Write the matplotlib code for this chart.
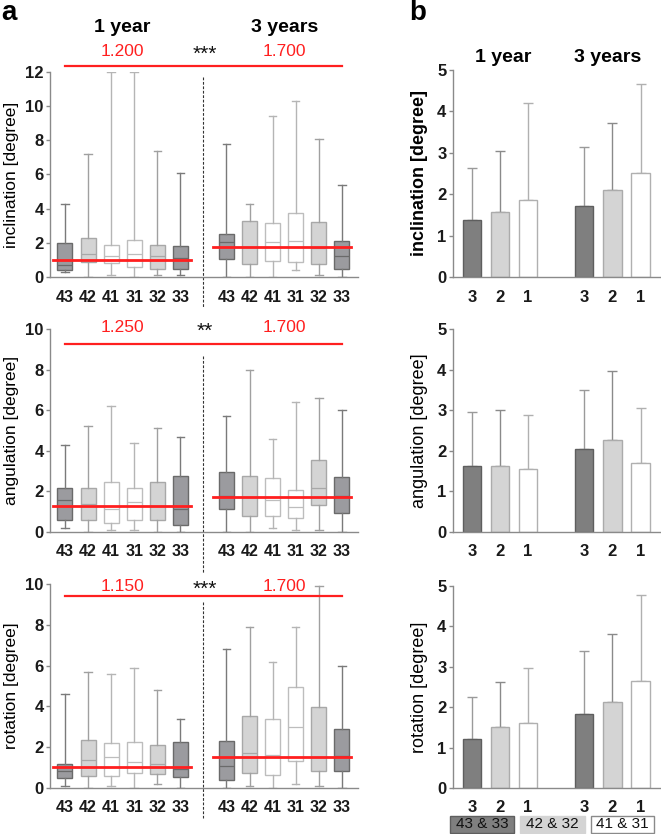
import matplotlib
matplotlib.use('Agg')
import matplotlib.pyplot as plt
from matplotlib.patches import Rectangle

plt.rcParams['font.family'] = ['Liberation Sans', 'DejaVu Sans']

# ---- data: panel a (box plots), order 43 42 41 31 32 33 | 43 42 41 31 32 33
teeth = ['43', '42', '41', '31', '32', '33']
box_pos = [1, 2, 3, 4, 5, 6, 8, 9, 10, 11, 12, 13]

incl_lo = [0.3, 0.0, 0.1, 0.0, 0.1, 0.1, 0.0, 0.0, 0.0, 0.4, 0.1, 0.0]
incl_q1 = [0.43, 0.88, 0.84, 0.58, 0.49, 0.49, 1.07, 0.76, 0.94, 0.88, 0.78, 0.49]
incl_med = [0.70, 1.34, 1.23, 1.34, 1.23, 1.09, 2.03, 1.75, 2.03, 2.10, 1.70, 1.23]
incl_q3 = [1.99, 2.28, 1.87, 2.14, 1.87, 1.83, 2.50, 3.27, 3.14, 3.74, 3.22, 2.09]
incl_hi = [4.3, 7.2, 12.0, 12.0, 7.4, 6.1, 7.8, 4.3, 9.4, 10.3, 8.1, 5.4]

ang_lo = [0.2, 0.0, 0.1, 0.1, 0.0, 0.0, 0.0, 0.0, 0.2, 0.1, 0.1, 0.0]
ang_q1 = [0.58, 0.58, 0.42, 0.61, 0.61, 0.35, 1.15, 0.81, 0.77, 0.71, 1.35, 0.92]
ang_med = [1.58, 1.40, 1.13, 1.50, 1.26, 1.13, 1.75, 1.72, 1.60, 1.21, 2.18, 1.75]
ang_q3 = [2.18, 2.18, 2.48, 2.16, 2.48, 2.74, 2.98, 2.74, 2.65, 2.05, 3.56, 2.69]
ang_hi = [4.3, 5.2, 6.2, 4.4, 5.1, 4.7, 5.7, 8.0, 4.6, 6.4, 6.6, 6.0]

rot_lo = [0.1, 0.0, 0.1, 0.0, 0.2, 0.0, 0.0, 0.1, 0.0, 0.2, 0.1, 0.0]
rot_q1 = [0.51, 0.61, 0.61, 0.72, 0.70, 0.56, 0.41, 0.72, 0.65, 1.31, 0.83, 0.83]
rot_med = [0.82, 1.39, 1.51, 1.29, 1.19, 0.92, 1.10, 1.70, 1.60, 3.00, 1.50, 1.59]
rot_q3 = [1.18, 2.37, 2.23, 2.27, 2.13, 2.27, 2.32, 3.54, 3.40, 4.93, 3.98, 2.91]
rot_hi = [4.6, 5.7, 5.6, 5.9, 4.8, 3.4, 6.8, 7.9, 6.2, 7.9, 9.9, 6.0]

# group medians (red lines) and their labels
incl_grp = [0.97, 1.73]
ang_grp = [1.26, 1.73]
rot_grp = [1.01, 1.51]
incl_lbl = ['1.200', '1.700']
ang_lbl = ['1.250', '1.700']
rot_lbl = ['1.150', '1.700']
stars = ['***', '**', '***']

# ---- data: panel b (mean + SD), order 3 2 1 | 3 2 1
bar_pos = [1, 2, 3, 5, 6, 7]
bar_lbl = ['3', '2', '1', '3', '2', '1']
incl_mean = [1.37, 1.56, 1.85, 1.72, 2.10, 2.50]
incl_sd = [1.27, 1.48, 2.36, 1.41, 1.63, 2.15]
ang_mean = [1.63, 1.63, 1.54, 2.04, 2.27, 1.71]
ang_sd = [1.33, 1.37, 1.33, 1.45, 1.70, 1.35]
rot_mean = [1.21, 1.52, 1.62, 1.82, 2.12, 2.64]
rot_sd = [1.04, 1.10, 1.35, 1.57, 1.70, 2.14]

# styles
DARK_F, DARK_E = '#9b9b9f', '#6a6a6a'
LIGHT_F, LIGHT_E = '#d4d4d4', '#a8a8a8'
WHITE_F, WHITE_E = '#ffffff', '#bdbdbd'
box_style = {'43': (DARK_F, DARK_E, '#7a7a7a'), '33': (DARK_F, DARK_E, '#7a7a7a'),
             '42': (LIGHT_F, LIGHT_E, '#a0a0a0'), '32': (LIGHT_F, LIGHT_E, '#a0a0a0'),
             '41': (WHITE_F, WHITE_E, '#b5b5b5'), '31': (WHITE_F, WHITE_E, '#b5b5b5')}
RED = '#ff1f1f'
SPINE = '#8a8a8a'

fig = plt.figure(figsize=(6.61, 8.34), dpi=100)

W, H = 661, 834


def rect(x0, x1, ytop, ybot):
    return [x0 / W, 1 - ybot / H, (x1 - x0) / W, (ybot - ytop) / H]


def style_axes(ax):
    for s in ['top', 'right']:
        ax.spines[s].set_visible(False)
    for s in ['left', 'bottom']:
        ax.spines[s].set_color(SPINE)
        ax.spines[s].set_linewidth(1.0)
    ax.tick_params(axis='y', length=3, width=1, color=SPINE, pad=1.5, labelsize=12)
    ax.tick_params(axis='x', length=0, pad=9, labelsize=11.5)
    for t in ax.get_yticklabels() + ax.get_xticklabels():
        t.set_fontweight('bold')
        t.set_color('#1a1a1a')


# ---- panel a
a_rects = [rect(50, 358, 72, 277), rect(50, 358, 329, 532), rect(50, 358, 584, 788)]
a_sets = [
    (incl_lo, incl_q1, incl_med, incl_q3, incl_hi, incl_grp, incl_lbl, 'inclination [degree]',
     12, 12.35, 13.2, (11.7, -1.75)),
    (ang_lo, ang_q1, ang_med, ang_q3, ang_hi, ang_grp, ang_lbl, 'angulation [degree]',
     10, 9.26, 10.05, (8.67, -2.0)),
    (rot_lo, rot_q1, rot_med, rot_q3, rot_hi, rot_grp, rot_lbl, 'rotation [degree]',
     10, 9.41, 9.9, (9.1, -1.47)),
]

for i, (r, d) in enumerate(zip(a_rects, a_sets)):
    lo, q1, med, q3, hi, grp, lbl, ylab, ymax, line_y, text_y, dash = d
    ax = fig.add_axes(r)
    stats = []
    for k in range(12):
        stats.append({'med': med[k], 'q1': q1[k], 'q3': q3[k],
                      'whislo': lo[k], 'whishi': hi[k], 'fliers': []})
    bp = ax.bxp(stats, positions=box_pos, widths=0.65, patch_artist=True,
                showfliers=False, manage_ticks=False)
    labels12 = teeth + teeth
    for k in range(12):
        fc, ec, wc = box_style[labels12[k]]
        bp['boxes'][k].set_facecolor(fc)
        bp['boxes'][k].set_edgecolor(ec)
        bp['boxes'][k].set_linewidth(1.0)
        bp['medians'][k].set_color(ec)
        bp['medians'][k].set_linewidth(0.9)
        for j in (2 * k, 2 * k + 1):
            bp['whiskers'][j].set_color(wc)
            bp['whiskers'][j].set_linewidth(1.0)
            bp['caps'][j].set_color(wc)
            bp['caps'][j].set_linewidth(1.0)
    # group medians
    ax.plot([0.48, 6.48], [grp[0], grp[0]], color=RED, lw=2.0, zorder=5)
    ax.plot([7.43, 13.4], [grp[1], grp[1]], color=RED, lw=2.0, zorder=5)
    # comparison line
    ax.plot([1, 13], [line_y, line_y], color=RED, lw=1.6, clip_on=False)
    ax.text(3.48, text_y, lbl[0], color=RED, fontsize=12.5, ha='center', va='center')
    ax.text(10.5, text_y, lbl[1], color=RED, fontsize=12.5, ha='center', va='center')
    ax.text(7.04, text_y - 0.15 * ymax / 10, stars[i], color='#111111', fontsize=15,
            ha='center', va='center')
    # separator
    ax.plot([7, 7], list(dash), color='#333333', lw=0.8, ls=(0, (2.5, 1.5)), clip_on=False)
    ax.set_xlim(0.35, 13.7)
    ax.set_ylim(0, ymax)
    ax.set_yticks(range(0, ymax + 1, 2))
    ax.set_xticks(box_pos)
    ax.set_xticklabels(labels12)
    ax.set_ylabel(ylab, fontsize=12.5)
    ax.yaxis.set_label_coords(-0.1, 0.5)
    style_axes(ax)
    if i == 0:
        ax.text(3.5, 14.6, '1 year', fontsize=14, fontweight='bold', ha='center', va='center')
        ax.text(10.5, 14.6, '3 years', fontsize=14, fontweight='bold', ha='center', va='center')

# ---- panel b
b_rects = [rect(452.7, 660, 70, 277), rect(452.7, 660, 329, 532), rect(452.7, 660, 586, 788)]
b_sets = [(incl_mean, incl_sd, 'inclination [degree]', 'bold'),
          (ang_mean, ang_sd, 'angulation [degree]', 'normal'),
          (rot_mean, rot_sd, 'rotation [degree]', 'normal')]
bar_fc = ['#7f7f7f', '#d4d4d4', '#ffffff'] * 2
bar_ec = ['#5e5e5e', '#ababab', '#b0b0b0'] * 2
err_c = ['#9a9a9a', '#8a8a8a', '#b0b0b0'] * 2

for i, (r, d) in enumerate(zip(b_rects, b_sets)):
    mean, sd, ylab, wt = d
    ax = fig.add_axes(r)
    for k in range(6):
        ax.errorbar(bar_pos[k], mean[k], yerr=[[0], [sd[k]]], fmt='none', ecolor=err_c[k],
                    elinewidth=1.0, capsize=3.6, capthick=1.0, zorder=1)
    ax.bar(bar_pos, mean, width=0.65, color=bar_fc, edgecolor=bar_ec, linewidth=1.0, zorder=2)
    ax.set_xlim(0.32, 7.69)
    ax.set_ylim(0, 5)
    ax.set_yticks(range(0, 6))
    ax.set_xticks(bar_pos)
    ax.set_xticklabels(bar_lbl)
    ax.set_ylabel(ylab, fontsize=13, fontweight=wt)
    ax.yaxis.set_label_coords(-0.119, 0.5)
    style_axes(ax)
    ax.tick_params(axis='x', labelsize=12)
    if i == 0:
        ax.text(2.12, 5.31, '1 year', fontsize=14, fontweight='bold', ha='center', va='center')
        ax.text(5.83, 5.31, '3 years', fontsize=14, fontweight='bold', ha='center', va='center')

# legend boxes below panel b
legend_items = [('43 & 33', '#7f7f7f', '#5e5e5e', 450, 514),
                ('42 & 32', '#d4d4d4', '#d4d4d4', 520, 585),
                ('41 & 31', '#ffffff', '#8a8a8a', 591, 654)]
for txt, fc, ec, x0, x1 in legend_items:
    fig.add_artist(Rectangle((x0 / W, 1 - 833 / H), (x1 - x0) / W, 17 / H,
                             transform=fig.transFigure, facecolor=fc, edgecolor=ec, lw=1.0))
    fig.text((x0 + x1) / 2 / W, 1 - 824.5 / H, txt, fontsize=11, ha='center', va='center',
             color='#111111')

fig.text(0.002, 1 - 13 / H, 'a', fontsize=20, fontweight='bold', ha='left', va='center')
fig.text(409 / W, 1 - 13 / H, 'b', fontsize=20, fontweight='bold', ha='left', va='center')

fig.savefig('out.png', dpi=100)
plt.close()
